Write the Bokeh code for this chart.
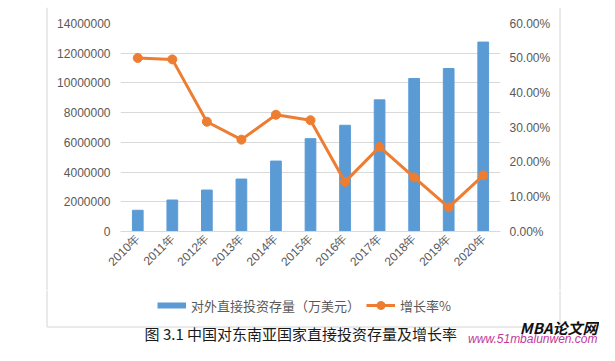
import math
import numpy as np
from bokeh.plotting import figure
from bokeh.layouts import column, row
from bokeh.models import (Range1d, LinearAxis, FactorRange, SingleIntervalTicker, FixedTicker,
                          NumeralTickFormatter, Legend, LegendItem, Label)
from bokeh.embed import file_html
from bokeh.resources import INLINE

years = ["2010年", "2011年", "2012年", "2013年", "2014年", "2015年",
         "2016年", "2017年", "2018年", "2019年", "2020年"]
stock = [1430000, 2120000, 2790000, 3530000, 4740000, 6250000,
         7150000, 8860000, 10300000, 10970000, 12750000]
growth = [0.5006, 0.4965, 0.3167, 0.2650, 0.3368, 0.3210,
          0.1430, 0.2440, 0.1560, 0.0695, 0.1620]
pct_ticks = [0.0, 0.1, 0.2, 0.3, 0.4, 0.5, 0.6]

bar_name = "对外直接投资存量（万美元）"
line_name = "增长率%"
caption = "图 3.1  中国对东南亚国家直接投资存量及增长率"
mark_1 = "MBA论文网"
mark_2 = "www.51mbalunwen.com"

GRAY = "#595959"
GRID = "#d9d9d9"
FRAME = "#d4d4d4"
BLUE = "#5b9bd5"
ORANGE = "#ed7d31"

# outer chart-area border (page pixel coordinates)
BOX_L, BOX_R, BOX_T, BOX_B = 46.5, 559.5, 5.5, 326.5


def no_align(f):
    if "frame_align" in f.properties():
        f.frame_align = False


def blank(width, height, x0, x1, y_top, y_bottom):
    f = figure(width=width, height=height, x_range=Range1d(x0, x1),
               y_range=Range1d(y_bottom, y_top), output_backend="svg",
               toolbar_location=None, x_axis_location=None, y_axis_location=None,
               min_border=0, min_border_left=0, min_border_right=0,
               min_border_top=0, min_border_bottom=0)
    f.outline_line_color = None
    f.background_fill_color = None
    f.border_fill_color = None
    f.grid.visible = False
    no_align(f)
    return f


def border(f, xs, ys):
    f.line(x=xs, y=ys, line_color=FRAME, line_width=1)


# ---------- main chart ----------
a = figure(x_range=FactorRange(*years), y_range=Range1d(0, 14000000),
           width=505, height=283, output_backend="svg", toolbar_location=None,
           min_border_left=70, min_border_right=55, min_border_top=16,
           min_border_bottom=59)
no_align(a)
a.extra_y_ranges = {"pct": Range1d(0, 0.6)}
a.outline_line_color = None
a.background_fill_color = "white"
a.border_fill_color = "white"

a.vbar(x=years, top=stock, width=0.31, color=BLUE)
a.line(x=years, y=growth, y_range_name="pct", line_width=3, color=ORANGE)
a.scatter(x=years, y=growth, y_range_name="pct", size=9, color=ORANGE)

a.xgrid.grid_line_color = None
a.ygrid.grid_line_color = GRID
a.ygrid.grid_line_width = 1

ya = a.yaxis[0]
ya.ticker = SingleIntervalTicker(interval=2000000, num_minor_ticks=0)
ya.formatter = NumeralTickFormatter(format="0")
ra = LinearAxis(y_range_name="pct", ticker=FixedTicker(ticks=pct_ticks),
                formatter=NumeralTickFormatter(format="0.00%"))
a.add_layout(ra, "right")
xa = a.xaxis[0]

for ax, standoff in ((ya, 10), (ra, 9), (xa, 5)):
    ax.axis_line_color = None
    ax.major_tick_line_color = None
    ax.minor_tick_line_color = None
    ax.major_tick_out = 0
    ax.major_tick_in = 0
    ax.minor_tick_out = 0
    ax.major_label_standoff = standoff
    ax.major_label_text_font = "Liberation Sans"
    ax.major_label_text_font_size = "12px"
    ax.major_label_text_color = GRAY
xa.axis_line_color = GRID
xa.major_label_orientation = math.pi / 4

# ---------- chart-area border pieces ----------
t = blank(599, 7, 0, 599, 0, 7)
border(t, [BOX_L, BOX_L, BOX_R, BOX_R], [7, BOX_T, BOX_T, 7])
left_strip = blank(50, 283, 0, 50, 7, 290)
border(left_strip, [BOX_L, BOX_L], [7, 290])
right_strip = blank(44, 283, 555, 599, 7, 290)
border(right_strip, [BOX_R, BOX_R], [7, 290])

# ---------- footer: legend, caption, watermark ----------
b = blank(599, 55, 0, 599, 290, 345)
border(b, [BOX_L, BOX_L, BOX_R, BOX_R], [290, BOX_B, BOX_B, 290])

nan2 = np.array([np.nan, np.nan])
kb = b.line(x=nan2, y=nan2, line_width=6, color=BLUE)
kl = b.line(x=nan2, y=nan2, line_width=3, color=ORANGE)
ks = b.scatter(x=nan2, y=nan2, size=8, color=ORANGE)

legend = Legend(items=[LegendItem(label=bar_name, renderers=[kb]),
                       LegendItem(label=line_name, renderers=[kl, ks])],
                orientation="horizontal", location=(157, 30),
                border_line_color=None, background_fill_alpha=0,
                glyph_width=29, glyph_height=20, label_height=20,
                label_standoff=5, spacing=6, padding=0, margin=0,
                label_text_font="Noto Sans CJK SC", label_text_font_size="13px",
                label_text_color=GRAY)
b.add_layout(legend)

b.add_layout(Label(x=302, y=333, text=caption,
                   text_align="center", text_baseline="middle",
                   text_font="Noto Sans CJK SC", text_font_size="15px",
                   text_color="#1a1a1a"))
b.add_layout(Label(x=597, y=327, text=mark_1,
                   text_align="right", text_baseline="middle",
                   text_font="Noto Sans CJK SC", text_font_size="15px",
                   text_font_style="bold italic", text_color="#111111"))
b.add_layout(Label(x=597, y=338, text=mark_2,
                   text_align="right", text_baseline="middle",
                   text_font="Liberation Sans", text_font_size="12px",
                   text_font_style="italic", text_color="#c0399a"))

p = column(t, row(left_strip, a, right_strip, spacing=0), b, spacing=0)
open("out.html", "w").write(file_html(p, INLINE))
